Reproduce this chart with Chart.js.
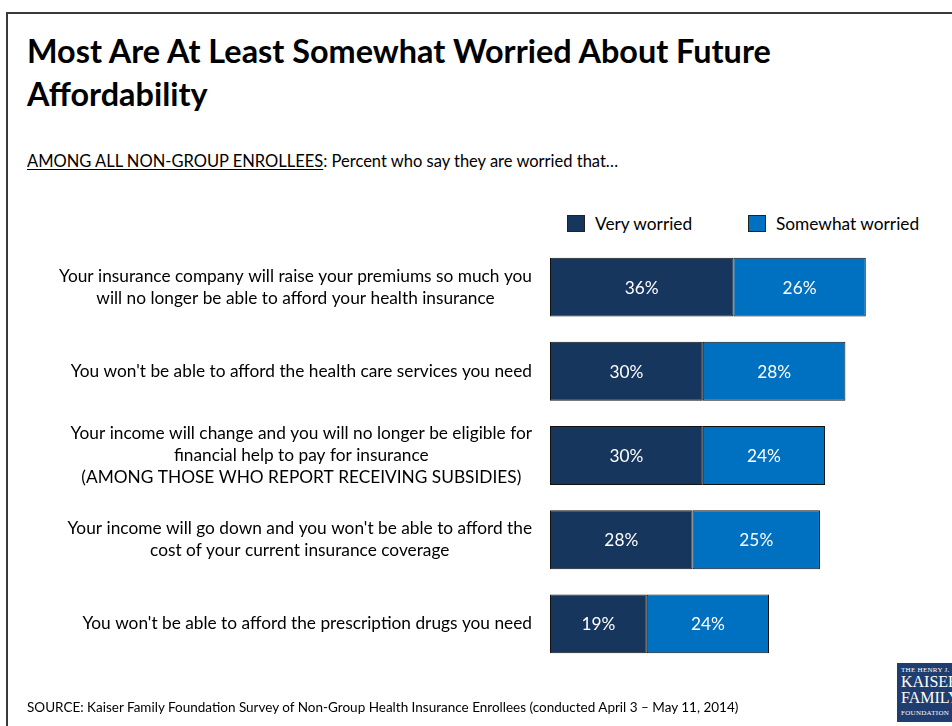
<!DOCTYPE html>
<html lang="en">
<head>
  <meta charset="UTF-8" />
  <title>Most Are At Least Somewhat Worried About Future Affordability</title>
  <script src="https://cdn.jsdelivr.net/npm/chart.js"></script>
  <style>
    body { margin: 0; background: #fff; font-family: "Lato", "Open Sans", sans-serif; color: #000; }
    #page { position: relative; width: 952px; height: 726px; overflow: hidden; }
    #frame { position: absolute; left: 6px; top: 12px; width: 960px; height: 730px;
             border-left: 2px solid #3a3a3a; border-top: 2px solid #3a3a3a; }
    #title { position: absolute; left: 27px; top: 29px; margin: 0; font-size: 32.4px; line-height: 43px; font-weight: bold; }
    #subtitle { position: absolute; left: 27px; top: 151px; font-size: 16.5px; }
    #subtitle u { text-decoration-thickness: 1px; text-underline-offset: 2px; }
    #legend { position: absolute; top: 213px; left: 567px; font-size: 17.3px; }
    .item { position: absolute; white-space: nowrap; display: flex; align-items: center; }
    .swatch { width: 16px; height: 15px; border: 1px solid #222; margin-right: 10px; }
    canvas { position: absolute; left: 0; top: 0; }
    #source { position: absolute; left: 27px; top: 699px; font-size: 13.5px; }
    #logo { position: absolute; left: 897px; top: 663px; width: 64px; height: 59px; background: #1f3d6e;
            color: #fff; font-family: "Liberation Serif", serif; line-height: 1; padding-left: 4px; box-sizing: border-box; }
    #logo .small { font-size: 7px; margin-top: 4px; letter-spacing: 0.3px; }
    #logo .big { font-size: 16px; }
  </style>
</head>
<body>
  <div id="page">
    <div id="frame"></div>
    <h1 id="title">Most Are At Least Somewhat Worried About Future<br>Affordability</h1>
    <div id="subtitle"><u>AMONG ALL NON-GROUP ENROLLEES</u>: Percent who say they are worried that…</div>
    <div id="legend"></div>
    <canvas id="chart" width="952" height="726"></canvas>
    <div id="source">SOURCE: Kaiser Family Foundation Survey of Non-Group Health Insurance Enrollees (conducted April 3 – May 11, 2014)</div>
    <div id="logo"><div class="small">THE HENRY J.</div><div class="big">KAISER</div><div class="big">FAMILY</div><div class="small">FOUNDATION</div></div>
  </div>

  <script>
    const categories = [
      ["Your insurance company will raise your premiums so much you", "will no longer be able to afford your health insurance"],
      ["You won't be able to afford the health care services you need"],
      ["Your income will change and you will no longer be eligible for", "financial help to pay for insurance", "(AMONG THOSE WHO REPORT RECEIVING SUBSIDIES)"],
      ["Your income will go down and you won't be able to afford the", "cost of your current insurance coverage"],
      ["You won't be able to afford the prescription drugs you need"]
    ];
    const veryWorried = [36, 30, 30, 28, 19];
    const somewhatWorried = [26, 28, 24, 25, 24];
    const seriesNames = ["Very worried", "Somewhat worried"];
    const seriesColors = ["#17365d", "#0070c0"];

    const labelFont = '17.3px "Lato", "Open Sans", sans-serif';

    // category text: each block centred on itself, block right edge against the bars
    const blockLabels = {
      id: "blockLabels",
      afterDraw(chart) {
        const ctx = chart.ctx;
        const y = chart.scales.y;
        const right = chart.chartArea.left - 18;
        const lh = 22;
        ctx.save();
        ctx.font = labelFont;
        ctx.fillStyle = "#000";
        ctx.textAlign = "center";
        ctx.textBaseline = "middle";
        categories.forEach((lines, i) => {
          const w = Math.max(...lines.map(l => ctx.measureText(l).width));
          const cx = right - w / 2;
          const cy = y.getPixelForValue(i);
          lines.forEach((l, j) => {
            ctx.fillText(l, cx, cy + (j - (lines.length - 1) / 2) * lh);
          });
        });
        ctx.restore();
      }
    };

    // percentages written inside each segment
    const barValues = {
      id: "barValues",
      afterDatasetsDraw(chart) {
        const ctx = chart.ctx;
        ctx.save();
        ctx.font = labelFont;
        ctx.fillStyle = "#fff";
        ctx.textAlign = "center";
        ctx.textBaseline = "middle";
        chart.data.datasets.forEach((ds, di) => {
          chart.getDatasetMeta(di).data.forEach((bar, i) => {
            const p = bar.getProps(["x", "y", "base"], true);
            ctx.fillText(ds.data[i] + "%", (p.x + p.base) / 2, p.y + 1);
          });
        });
        ctx.restore();
      }
    };

    // legend
    const legend = document.getElementById("legend");
    const legendOffsets = [0, 181];
    seriesNames.forEach((name, i) => {
      const item = document.createElement("div");
      item.className = "item";
      item.style.left = legendOffsets[i] + "px";
      item.innerHTML = `<span class="swatch" style="background:${seriesColors[i]}"></span>${name}`;
      legend.appendChild(item);
    });

    new Chart(document.getElementById("chart"), {
      type: "bar",
      data: {
        labels: categories,
        datasets: [
          { label: seriesNames[0], data: veryWorried, backgroundColor: seriesColors[0] },
          { label: seriesNames[1], data: somewhatWorried, backgroundColor: seriesColors[1] }
        ]
      },
      options: {
        indexAxis: "y",
        responsive: false,
        animation: false,
        devicePixelRatio: 1,
        layout: { padding: { left: 550, right: 20, top: 245, bottom: 60 } },
        datasets: {
          bar: {
            categoryPercentage: 1,
            barPercentage: 0.7,
            borderColor: "#111",
            borderWidth: 1,
            borderSkipped: false
          }
        },
        scales: {
          x: { stacked: true, min: 0, max: 75, display: false },
          y: { stacked: true, display: false }
        },
        plugins: { legend: { display: false }, tooltip: { enabled: false } }
      },
      plugins: [blockLabels, barValues]
    });
  </script>
</body>
</html>
